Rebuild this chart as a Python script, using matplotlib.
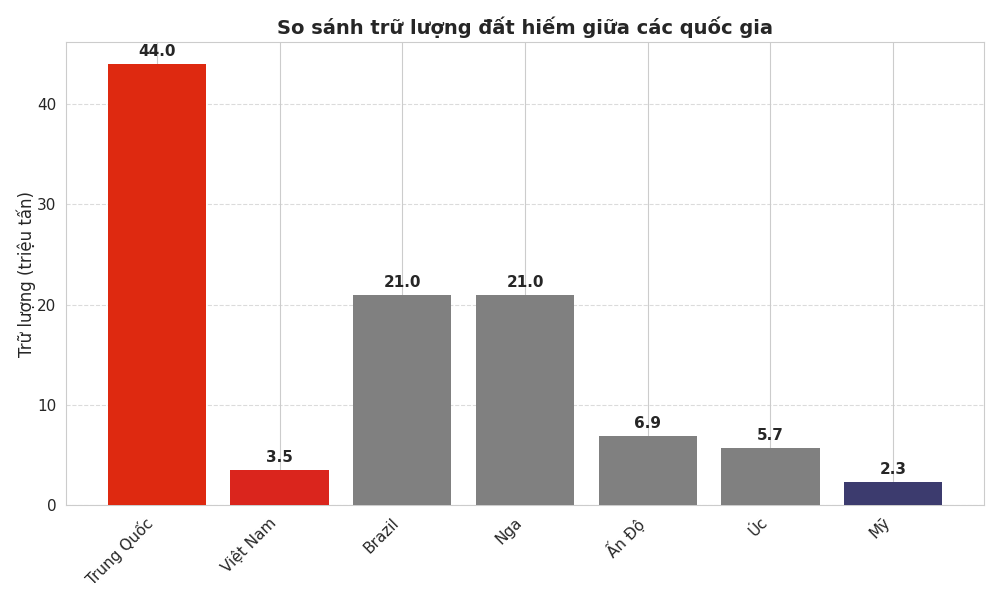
import matplotlib
matplotlib.use('Agg')
import matplotlib.pyplot as plt
import seaborn as sns

countries = ['Trung Quốc', 'Việt Nam', 'Brazil', 'Nga', 'Ấn Độ', 'Úc', 'Mỹ']
reserves = [44.0, 3.5, 21.0, 21.0, 6.9, 5.7, 2.3]
colors = ['#DE2910', '#DA251D', '#808080', '#808080', '#808080', '#808080', '#3C3B6E']

sns.set_style('whitegrid')
plt.rcParams['font.family'] = ['DejaVu Sans']

fig, ax = plt.subplots(figsize=(10, 6), dpi=100)
bars = ax.bar(countries, reserves, color=colors, width=0.8, linewidth=0, zorder=3)

for bar, val in zip(bars, reserves):
    ax.text(bar.get_x() + bar.get_width() / 2, bar.get_height() + 0.5, f'{val:.1f}',
            ha='center', va='bottom', fontsize=11, fontweight='bold', color='#262626', zorder=4)

ax.set_title('So sánh trữ lượng đất hiếm giữa các quốc gia', fontsize=14, fontweight='bold', color='#262626')
ax.set_ylabel('Trữ lượng (triệu tấn)', fontsize=12, labelpad=1)
ax.grid(axis='y', linestyle='--', alpha=0.7)
plt.xticks(rotation=45, ha='right')
ax.tick_params(labelsize=11)

plt.subplots_adjust(left=0.066, right=0.984, top=0.93, bottom=0.158)
plt.savefig('out.png')
